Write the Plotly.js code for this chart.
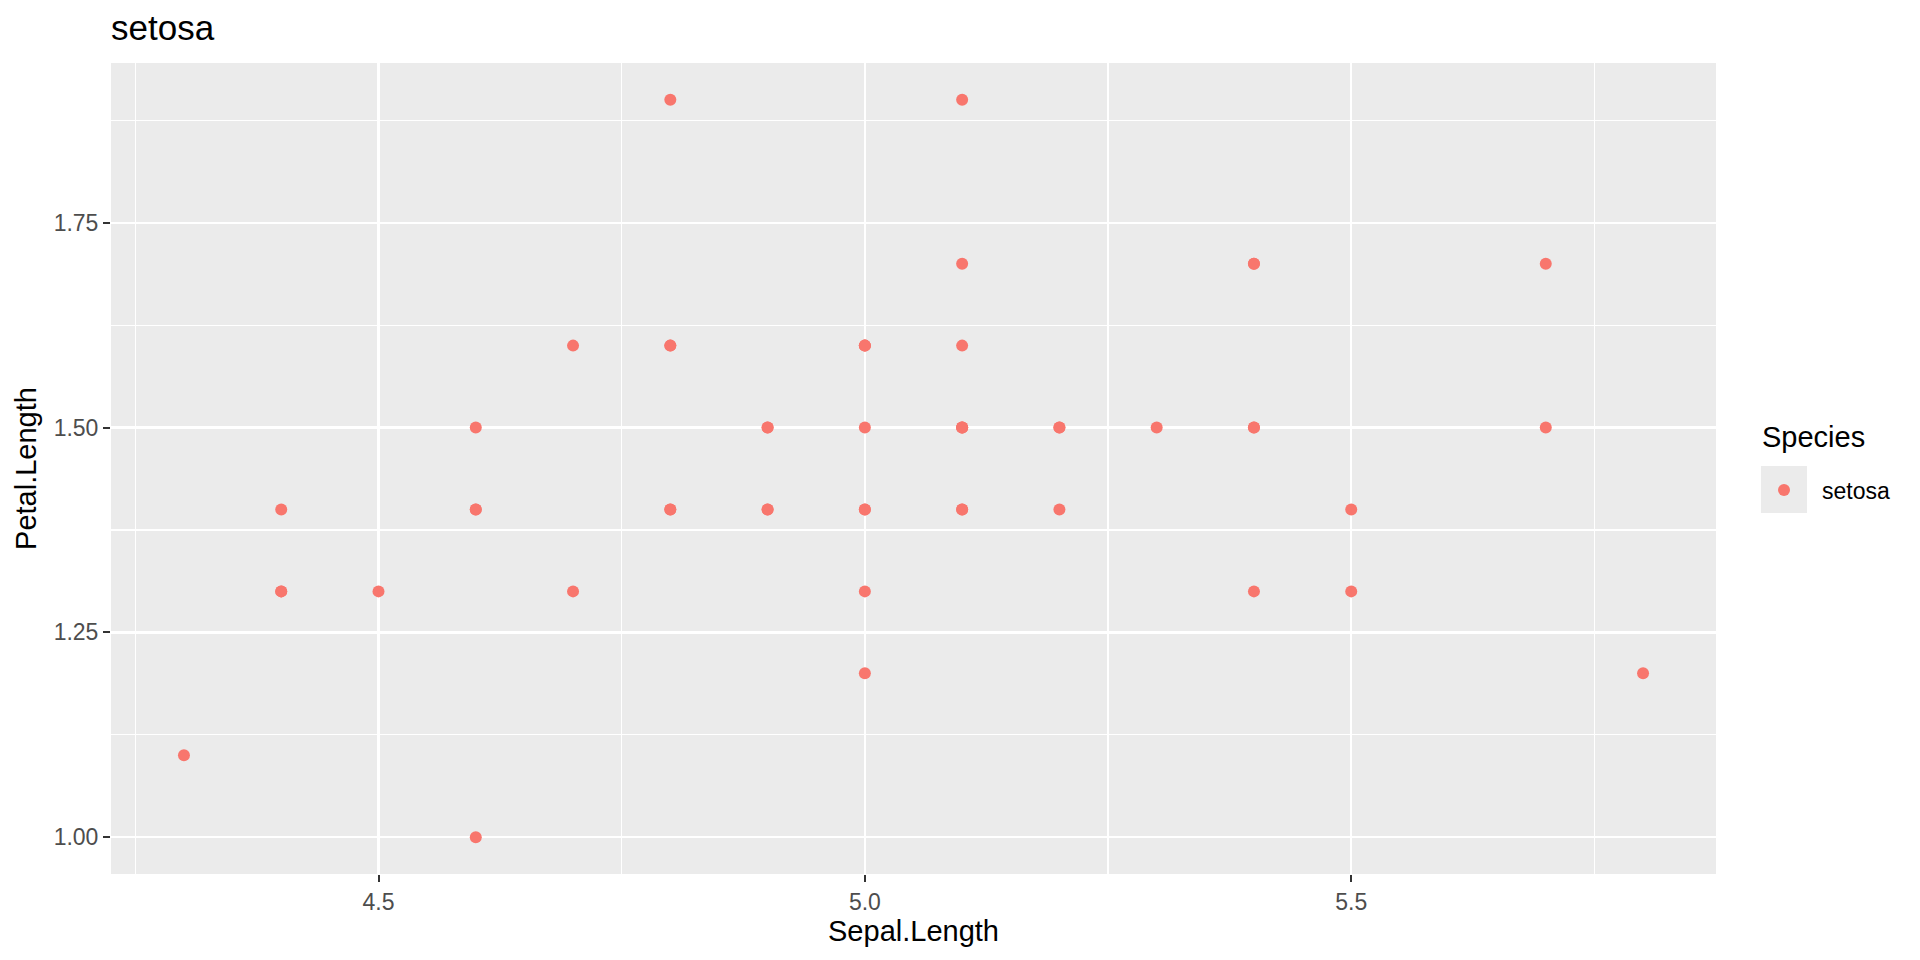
<!DOCTYPE html>
<html><head><meta charset="utf-8">
<script src="https://cdn.plot.ly/plotly-3.0.1.min.js"></script>
<style>html,body{margin:0;padding:0;background:#fff}#chart{width:1920px;height:960px}</style>
</head><body><div id="chart"></div>
<script>
const sepalLength = [5.1,4.9,4.7,4.6,5.0,5.4,4.6,5.0,4.4,4.9,5.4,4.8,4.8,4.3,5.8,5.7,5.4,5.1,5.7,5.1,5.4,5.1,4.6,5.1,4.8,5.0,5.0,5.2,5.2,4.7,4.8,5.4,5.2,5.5,4.9,5.0,5.5,4.9,4.4,5.1,5.0,4.5,4.4,5.0,5.1,4.8,5.1,4.6,5.3,5.0];
const petalLength = [1.4,1.4,1.3,1.5,1.4,1.7,1.4,1.5,1.4,1.5,1.5,1.6,1.4,1.1,1.2,1.5,1.3,1.4,1.7,1.5,1.7,1.5,1.0,1.7,1.9,1.6,1.6,1.5,1.4,1.6,1.6,1.5,1.5,1.4,1.5,1.2,1.3,1.4,1.3,1.5,1.3,1.3,1.3,1.6,1.9,1.4,1.6,1.4,1.5,1.4];
const speciesName = "setosa";
const legendTitle = "Species";
const xTicks = [4.5, 5.0, 5.5];
const yTicks = [1.00, 1.25, 1.50, 1.75];

const F = "Liberation Sans, Arial, Helvetica, sans-serif";
const trace = {
  type: "scatter", mode: "markers", x: sepalLength, y: petalLength, name: speciesName,
  marker: {color: "#F8766D", size: 12, line: {width: 0}},
  hoverinfo: "x+y"
};
const xmin = Math.min(...sepalLength), xmax = Math.max(...sepalLength);
const ymin = Math.min(...petalLength), ymax = Math.max(...petalLength);
const xpad = (xmax - xmin) * 0.05, ypad = (ymax - ymin) * 0.05;
const layout = {
  width: 1920, height: 960,
  paper_bgcolor: "#FFFFFF", plot_bgcolor: "#EBEBEB",
  margin: {l: 111, r: 204, t: 63, b: 86, pad: 0},
  font: {family: F, color: "#000000"},
  title: {text: speciesName, x: 0, xref: "paper", xanchor: "left", y: 1 - 28/960, yref: "container", yanchor: "middle", font: {size: 35, color: "#000000", family: F}},
  xaxis: {
    range: [xmin - xpad, xmax + xpad], tickvals: xTicks, ticktext: xTicks.map(v => v.toFixed(1)),
    showgrid: true, gridcolor: "#FFFFFF", gridwidth: 2.4, zeroline: false, showline: false,
    ticks: "outside", ticklen: 7, tickwidth: 2, tickcolor: "#333333",
    tickfont: {size: 23, color: "#4D4D4D", family: F},
    minor: {tickvals: [4.25, 4.75, 5.25, 5.75], showgrid: true, gridcolor: "#FFFFFF", gridwidth: 1.2, ticks: ""},
    title: {text: "Sepal.Length", font: {size: 29, color: "#000000", family: F}, standoff: 6}
  },
  yaxis: {
    range: [ymin - ypad, ymax + ypad], tickvals: yTicks, ticktext: yTicks.map(v => v.toFixed(2)),
    showgrid: true, gridcolor: "#FFFFFF", gridwidth: 2.4, zeroline: false, showline: false,
    ticks: "outside", ticklen: 7, tickwidth: 2, tickcolor: "#333333",
    tickfont: {size: 23, color: "#4D4D4D", family: F},
    minor: {tickvals: [1.125, 1.375, 1.625, 1.875], showgrid: true, gridcolor: "#FFFFFF", gridwidth: 1.2, ticks: ""},
    title: {text: "Petal.Length", font: {size: 29, color: "#000000", family: F}, standoff: 8}
  },
  showlegend: true,
  legend: {
    x: 1.0187, xanchor: "left", y: 0.4735, yanchor: "middle",
    bgcolor: "rgba(0,0,0,0)", borderwidth: 0,
    font: {size: 23, color: "#000000", family: F},
    itemsizing: "constant", itemwidth: 66
  },
  annotations: [{text: legendTitle, xref: "paper", yref: "paper", x: 1.0274, y: 0.539, xanchor: "left", yanchor: "middle", showarrow: false, font: {size: 29, color: "#000000", family: F}}],
  shapes: [{type: "rect", xref: "paper", yref: "paper", x0: 1.028, x1: 1.0567, y0: 0.445, y1: 0.503, fillcolor: "#EBEBEB", line: {width: 0}, layer: "below"}]
};
Plotly.newPlot("chart", [trace], layout, {displayModeBar: false, staticPlot: true});
</script></body></html>
